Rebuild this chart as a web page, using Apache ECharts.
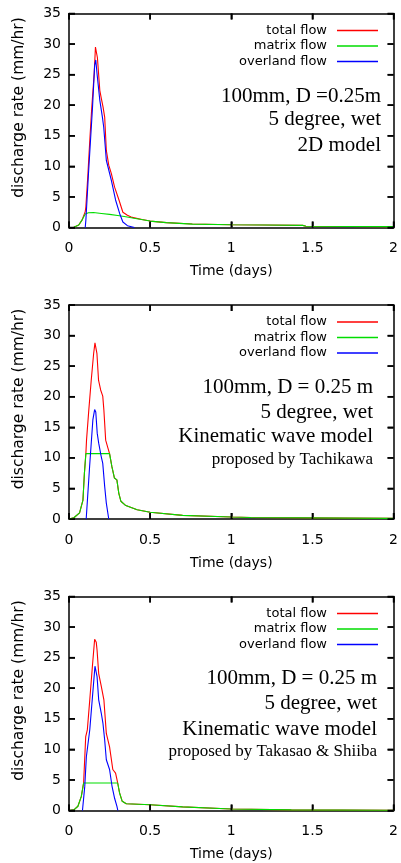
<!DOCTYPE html>
<html>
<head>
<meta charset="utf-8">
<script src="https://cdn.jsdelivr.net/npm/echarts@6/dist/echarts.min.js"></script>
<style>
html,body{margin:0;padding:0;background:#fff;}
#chart{width:401px;height:863px;}
</style>
</head>
<body>
<div id="chart"></div>
<script>
// ---- data: [time (days), discharge rate (mm/hr)] ----
const seriesNames = ['total flow', 'matrix flow', 'overland flow'];
const xTicks = [0, 0.5, 1, 1.5, 2];
const yTicks = [0, 5, 10, 15, 20, 25, 30, 35];

// Panel 1: 2D model
const p1Total = [[0,0],[0.03,0.05],[0.06,0.4],[0.08,1.2],[0.1,2.6],[0.104,3.4],[0.115,8],[0.128,14.2],[0.14,19.5],[0.155,25.1],[0.163,29.5],[0.168,29.8],[0.175,27.8],[0.19,22.4],[0.2,21],[0.21,19.7],[0.22,18],[0.23,12.6],[0.245,10.2],[0.261,8.8],[0.281,6.6],[0.308,4.5],[0.332,2.5],[0.36,2.0],[0.383,1.7],[0.45,1.3],[0.5,1.05],[0.6,0.8],[0.76,0.58],[1.0,0.45],[1.2,0.4],[1.44,0.35],[1.46,0.2],[2,0.15]];
const p1Matrix = [[0,0],[0.03,0.05],[0.06,0.4],[0.08,1.2],[0.1,2.2],[0.12,2.4],[0.15,2.45],[0.2,2.3],[0.25,2.15],[0.3,1.95],[0.35,1.75],[0.4,1.5],[0.5,1.05],[0.6,0.8],[0.76,0.55],[1.0,0.45],[1.2,0.4],[1.44,0.35],[1.46,0.2],[2,0.15]];
const p1Overland = [[0.1,0],[0.104,1.2],[0.12,8.8],[0.145,19.7],[0.158,26.5],[0.165,27.4],[0.173,25.1],[0.19,20.8],[0.206,18.0],[0.214,16.4],[0.23,11.0],[0.261,7.7],[0.287,4.5],[0.312,2.3],[0.332,0.9],[0.36,0.3],[0.403,0]];

// Panel 2: Kinematic wave model (Tachikawa)
const p2Total = [[0,0],[0.03,0.2],[0.065,1.0],[0.086,3.1],[0.095,7.5],[0.104,10.7],[0.108,12.9],[0.122,17.8],[0.137,22.7],[0.152,27.1],[0.16,28.8],[0.165,28.6],[0.172,27.1],[0.182,22.7],[0.195,21.1],[0.208,20.1],[0.215,17.8],[0.226,12.9],[0.24,11.6],[0.25,10.7],[0.264,8.6],[0.28,6.7],[0.295,6.4],[0.307,4.2],[0.32,2.9],[0.35,2.2],[0.42,1.5],[0.5,1.1],[0.7,0.6],[1.0,0.33],[1.12,0.25],[1.13,0.12],[2,0.1]];
const p2Matrix = [[0,0],[0.03,0.2],[0.065,1.0],[0.086,3.1],[0.095,7.5],[0.104,10.7],[0.25,10.7],[0.264,8.6],[0.28,6.7],[0.295,6.4],[0.307,4.2],[0.32,2.9],[0.35,2.2],[0.42,1.5],[0.5,1.1],[0.7,0.6],[1.0,0.33],[1.12,0.25],[1.13,0.12],[2,0.1]];
const p2Overland = [[0.106,0],[0.127,8.6],[0.147,16.2],[0.158,17.9],[0.165,17.5],[0.174,14.0],[0.183,12.4],[0.198,10.3],[0.208,9.1],[0.22,5.3],[0.23,2.6],[0.245,0]];

// Panel 3: Kinematic wave model (Takasao & Shiiba)
const p3Total = [[0,0],[0.03,0.1],[0.055,0.7],[0.076,2.3],[0.09,4.5],[0.097,4.5],[0.103,12.1],[0.113,13.2],[0.128,18.1],[0.144,23.5],[0.158,28],[0.162,28.2],[0.168,27.5],[0.173,26.2],[0.183,22.4],[0.199,20.3],[0.215,18.1],[0.23,12.6],[0.25,10.4],[0.27,6.7],[0.287,6.1],[0.3,4.5],[0.312,2.85],[0.328,1.5],[0.353,1.1],[0.5,0.95],[0.7,0.6],[1.0,0.25],[1.37,0.1],[2,0.05]];
const p3Matrix = [[0,0],[0.03,0.1],[0.055,0.7],[0.076,2.3],[0.09,4.5],[0.3,4.5],[0.312,2.85],[0.328,1.5],[0.353,1.1],[0.5,0.95],[0.7,0.6],[1.0,0.25],[1.37,0.1],[2,0.05]];
const p3Overland = [[0.083,0],[0.097,3.9],[0.107,8.8],[0.128,13.2],[0.148,19.7],[0.16,23.6],[0.165,23.5],[0.173,21.9],[0.183,18.1],[0.199,15.9],[0.209,14.3],[0.22,11.5],[0.23,8.3],[0.25,6.7],[0.265,4.0],[0.281,2.0],[0.295,0.7],[0.301,0]];

const panelLines = [
  ['100mm, D =0.25m', '5 degree, wet', '2D model'],
  ['100mm, D = 0.25 m', '5 degree, wet', 'Kinematic wave model', 'proposed by Tachikawa'],
  ['100mm, D = 0.25 m', '5 degree, wet', 'Kinematic wave model', 'proposed by Takasao & Shiiba']
];
const panelData = [[p1Total, p1Matrix, p1Overland],[p2Total, p2Matrix, p2Overland],[p3Total, p3Matrix, p3Overland]];
const colors = ['#ff0000', '#00dd00', '#0000ff'];

// ---- layout ----
const gridTops = [13.5, 305, 596.5];
const gridH = 214;
const textRight = [381, 373, 377];
const textYs = [[96.7, 119, 145], [387.3, 412.7, 436.7, 459.3], [678.3, 703.3, 729.3, 751.7]];
const SANS = '"DejaVu Sans", sans-serif';
const TL = 6; // tick length (px)

const xMin = xTicks[0], xMax = xTicks[xTicks.length - 1];
const yMin = yTicks[0], yMax = yTicks[yTicks.length - 1];

const grid = [], xAxis = [], yAxis = [], series = [], legend = [], graphic = [];
function axisLine() { return { show: true, onZero: false, lineStyle: { color: '#000', width: 1.5 } }; }
function tick() { return { show: true, inside: true, length: TL, lineStyle: { color: '#000', width: 1.5 } }; }

// inward tick marks drawn as small rect symbols placed through the axis scales
function tickMarks(i, data, size, offset) {
  return {
    type: 'scatter', xAxisIndex: i, yAxisIndex: i, data, silent: true, clip: false, z: 6,
    symbol: 'rect', symbolSize: size, symbolOffset: offset,
    itemStyle: { color: '#000', opacity: 1 }, emphasis: { disabled: true }, tooltip: { show: false }
  };
}

for (let i = 0; i < 3; i++) {
  grid.push({ left: 69, right: 5, top: gridTops[i], height: gridH });
  xAxis.push({
    type: 'value', gridIndex: i, min: xMin, max: xMax, interval: 0.5,
    position: 'bottom', axisLine: axisLine(), axisTick: tick(), splitLine: { show: false },
    axisLabel: { color: '#000', fontFamily: SANS, fontSize: 14, margin: 14 },
    name: 'Time (days)', nameLocation: 'middle', nameGap: 37,
    nameTextStyle: { color: '#000', fontFamily: SANS, fontSize: 14 }
  });
  yAxis.push({
    type: 'value', gridIndex: i, min: yMin, max: yMax, interval: 5,
    position: 'left', axisLine: axisLine(), axisTick: tick(), splitLine: { show: false },
    axisLabel: { color: '#000', fontFamily: SANS, fontSize: 14, margin: 8 },
    name: 'discharge rate (mm/hr)', nameLocation: 'middle', nameGap: 42, nameRotate: 90,
    nameTextStyle: { color: '#000', fontFamily: SANS, fontSize: 15.5, padding: [0, 0, 0, 26] }
  });
}
for (let i = 0; i < 3; i++) {
  xAxis.push({
    type: 'value', gridIndex: i, min: xMin, max: xMax, interval: 0.5, position: 'top',
    axisLine: axisLine(), axisTick: tick(), axisLabel: { show: false }, splitLine: { show: false }
  });
  yAxis.push({
    type: 'value', gridIndex: i, min: yMin, max: yMax, interval: 5, position: 'right',
    axisLine: axisLine(), axisTick: tick(), axisLabel: { show: false }, splitLine: { show: false }
  });
}
for (let i = 0; i < 3; i++) {
  for (let s = 0; s < 3; s++) {
    series.push({
      type: 'line', name: seriesNames[s], xAxisIndex: i, yAxisIndex: i,
      data: panelData[i][s], showSymbol: false,
      lineStyle: { color: colors[s], width: 1.1 }, itemStyle: { color: colors[s] }
    });
  }
  series.push(tickMarks(i, xTicks.map(v => [v, yMin]), [1.5, TL], [0, -TL / 2]));
  series.push(tickMarks(i, xTicks.map(v => [v, yMax]), [1.5, TL], [0, TL / 2]));
  series.push(tickMarks(i, yTicks.map(v => [xMin, v]), [TL, 1.5], [TL / 2, 0]));
  series.push(tickMarks(i, yTicks.map(v => [xMax, v]), [TL, 1.5], [-TL / 2, 0]));
  legend.push({
    data: seriesNames.map((n, s) => ({
      name: n, icon: 'rect',
      itemStyle: { color: colors[s], borderWidth: 0 }
    })),
    orient: 'vertical', align: 'right', right: 23, top: gridTops[i] + 9.5,
    padding: 0, itemWidth: 41, itemHeight: 1.3, itemGap: 0.5, selectedMode: false,
    textStyle: { color: '#000', fontFamily: SANS, fontSize: 13, lineHeight: 15, padding: [0, 5, 0, 0] }
  });
  panelLines[i].forEach((t, k) => {
    graphic.push({
      type: 'text', x: textRight[i], y: textYs[i][k], silent: true,
      style: {
        text: t, textAlign: 'right', textVerticalAlign: 'middle', fill: '#000',
        font: (k === 3 ? '17px' : '21px') + ' "Liberation Serif", "Times New Roman", serif'
      }
    });
  });
}

const chart = echarts.init(document.getElementById('chart'));
chart.setOption({
  animation: false,
  grid, xAxis, yAxis, series, legend, graphic
});
</script>
</body>
</html>
